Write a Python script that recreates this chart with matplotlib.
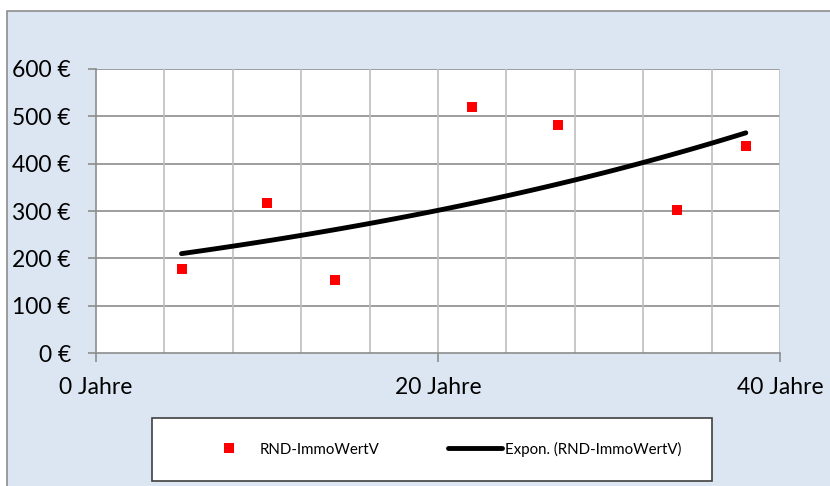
import numpy as np
import matplotlib.pyplot as plt
from matplotlib.patches import Rectangle
from matplotlib.lines import Line2D

plt.rcParams['font.family'] = ['Lato', 'DejaVu Sans']

# data
restnutzungsdauer = [5, 10, 14, 22, 27, 34, 38]
werte = [178, 317, 154, 520, 482, 302, 437]
y_ticks = [0, 100, 200, 300, 400, 500, 600]
x_ticks = [0, 20, 40]

# exponential trend like Excel: ln(y) = ln(a) + b*x
b, ln_a = np.polyfit(restnutzungsdauer, np.log(werte), 1)
trend_x = np.linspace(min(restnutzungsdauer), max(restnutzungsdauer), 100)
trend_y = np.exp(ln_a + b * trend_x)

fig = plt.figure(figsize=(8.3, 4.86), dpi=100)
fig.patch.set_facecolor('white')
fig.patches.append(Rectangle((7 / 830, -0.01), 1.0, 1 - 11 / 486 + 0.01,
                             transform=fig.transFigure, facecolor='#dce6f2',
                             edgecolor='#8c8c8c', linewidth=1.2, zorder=-1))

ax = fig.add_axes([96 / 830, 1 - 353 / 486, 684 / 830, 284 / 486])
ax.set_zorder(1)
ax.set_facecolor('white')

ax.plot(trend_x, trend_y, color='black', linewidth=3.5, solid_capstyle='round',
        zorder=3)
ax.scatter(restnutzungsdauer, werte, marker='s', s=52, color='#ff0000',
           linewidths=0, zorder=4)

ax.set_xlim(0, 40)
ax.set_ylim(0, 600)

# gridlines
for v in y_ticks[1:]:
    ax.axhline(v, color='#8c8c8c', linewidth=1.2, zorder=1)
for v in range(4, 41, 4):
    ax.axvline(v, color='#bfbfbf', linewidth=1.2, zorder=1)

for s in ['top', 'right']:
    ax.spines[s].set_visible(False)
for s in ['left', 'bottom']:
    ax.spines[s].set_color('#8c8c8c')
    ax.spines[s].set_linewidth(1.2)

ax.set_yticks(y_ticks)
ax.set_yticklabels([f'{v} €' for v in y_ticks])
ax.set_xticks(x_ticks)
ax.set_xticklabels([f'{v} Jahre' for v in x_ticks])
ax.tick_params(axis='y', direction='out', length=6, width=1.2, color='#8c8c8c',
               labelsize=16.5, pad=12)
ax.tick_params(axis='x', direction='out', length=6.5, width=1.2, color='#8c8c8c',
               labelsize=16.5, pad=11)

# legend with a square frame
fig.patches.append(Rectangle((152 / 830, 1 - 481 / 486), 560 / 830, 63 / 486,
                             transform=fig.transFigure, facecolor='white',
                             edgecolor='#404040', linewidth=1.2, zorder=1))
handles = [
    Line2D([], [], marker='s', linestyle='none', color='#ff0000',
           markersize=7, markeredgewidth=0),
    Line2D([], [], color='black', linewidth=3.5, solid_capstyle='round'),
]
fig.legend(handles, ['RND-ImmoWertV', 'Expon. (RND-ImmoWertV)'],
           loc='center', bbox_to_anchor=(442 / 830, 1 - 449 / 486), ncol=2,
           frameon=False, fontsize=10.8, handlelength=3.6, handletextpad=0.2,
           columnspacing=4.6)

fig.savefig('out.png', dpi=100)
